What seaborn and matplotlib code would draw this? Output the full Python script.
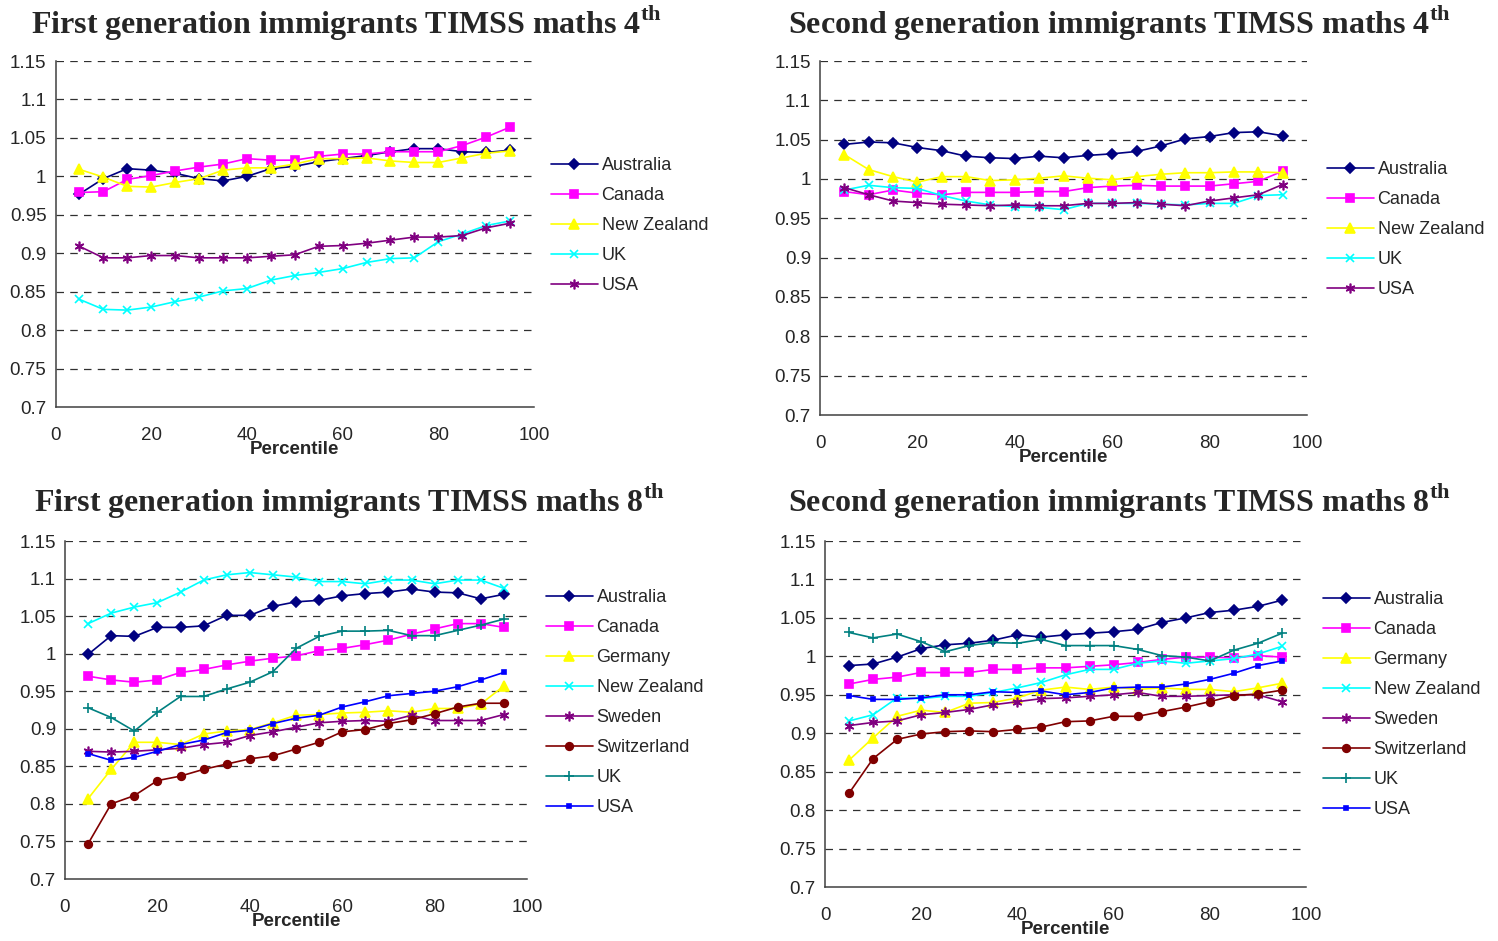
import matplotlib
matplotlib.use("Agg")
import matplotlib.pyplot as plt
import matplotlib.ticker as mticker
import seaborn as sns

# percentiles (x axis)
pct = [5, 10, 15, 20, 25, 30, 35, 40, 45, 50, 55, 60, 65, 70, 75, 80, 85, 90, 95]

# First generation, TIMSS maths 4th
aus1_4 = [0.977, 0.997, 1.010, 1.008, 1.004, 0.997, 0.994, 1.000, 1.010, 1.013, 1.019, 1.023, 1.027, 1.032, 1.036, 1.036, 1.032, 1.031, 1.034]
can1_4 = [0.979, 0.980, 0.996, 1.001, 1.007, 1.012, 1.016, 1.023, 1.021, 1.021, 1.026, 1.029, 1.029, 1.032, 1.032, 1.032, 1.040, 1.051, 1.064]
nz1_4 = [1.009, 0.999, 0.987, 0.986, 0.992, 0.997, 1.008, 1.011, 1.011, 1.016, 1.023, 1.023, 1.024, 1.020, 1.018, 1.018, 1.024, 1.030, 1.033]
uk1_4 = [0.840, 0.827, 0.826, 0.830, 0.837, 0.843, 0.851, 0.854, 0.865, 0.871, 0.875, 0.880, 0.888, 0.893, 0.894, 0.915, 0.925, 0.936, 0.942]
usa1_4 = [0.909, 0.894, 0.894, 0.897, 0.897, 0.894, 0.894, 0.894, 0.896, 0.898, 0.909, 0.910, 0.913, 0.917, 0.921, 0.921, 0.923, 0.933, 0.939]

# Second generation, TIMSS maths 4th
aus2_4 = [1.044, 1.047, 1.046, 1.040, 1.036, 1.029, 1.027, 1.026, 1.029, 1.027, 1.030, 1.032, 1.035, 1.042, 1.051, 1.054, 1.059, 1.060, 1.055]
can2_4 = [0.984, 0.980, 0.986, 0.982, 0.980, 0.983, 0.983, 0.983, 0.984, 0.984, 0.989, 0.991, 0.992, 0.991, 0.991, 0.991, 0.994, 0.997, 1.010]
nz2_4 = [1.031, 1.012, 1.003, 0.996, 1.003, 1.003, 0.998, 0.999, 1.001, 1.004, 1.001, 0.999, 1.003, 1.006, 1.008, 1.008, 1.009, 1.009, 1.008]
uk2_4 = [0.986, 0.992, 0.989, 0.988, 0.979, 0.972, 0.967, 0.965, 0.964, 0.961, 0.969, 0.969, 0.969, 0.968, 0.967, 0.969, 0.969, 0.979, 0.980]
usa2_4 = [0.989, 0.980, 0.972, 0.970, 0.968, 0.967, 0.966, 0.967, 0.966, 0.966, 0.969, 0.969, 0.970, 0.968, 0.966, 0.972, 0.976, 0.980, 0.993]

# First generation, TIMSS maths 8th
aus1_8 = [0.999, 1.024, 1.023, 1.035, 1.035, 1.037, 1.051, 1.051, 1.063, 1.069, 1.071, 1.077, 1.080, 1.082, 1.086, 1.082, 1.081, 1.073, 1.079]
can1_8 = [0.970, 0.965, 0.962, 0.965, 0.975, 0.979, 0.985, 0.990, 0.994, 0.997, 1.004, 1.007, 1.012, 1.018, 1.026, 1.033, 1.040, 1.040, 1.035]
ger1_8 = [0.807, 0.846, 0.882, 0.882, 0.879, 0.893, 0.897, 0.899, 0.908, 0.918, 0.919, 0.921, 0.922, 0.924, 0.922, 0.927, 0.927, 0.933, 0.957]
nz1_8 = [1.040, 1.054, 1.062, 1.068, 1.082, 1.098, 1.105, 1.108, 1.105, 1.102, 1.096, 1.096, 1.093, 1.098, 1.098, 1.093, 1.098, 1.098, 1.087]
swe1_8 = [0.870, 0.869, 0.870, 0.872, 0.874, 0.879, 0.882, 0.891, 0.896, 0.902, 0.908, 0.910, 0.911, 0.910, 0.918, 0.911, 0.911, 0.911, 0.919]
swi1_8 = [0.747, 0.800, 0.811, 0.831, 0.837, 0.846, 0.853, 0.860, 0.864, 0.873, 0.882, 0.896, 0.899, 0.907, 0.912, 0.920, 0.929, 0.934, 0.934]
uk1_8 = [0.928, 0.915, 0.897, 0.922, 0.943, 0.943, 0.953, 0.962, 0.976, 1.007, 1.023, 1.030, 1.030, 1.031, 1.024, 1.024, 1.031, 1.038, 1.046]
usa1_8 = [0.867, 0.858, 0.862, 0.870, 0.879, 0.885, 0.895, 0.898, 0.907, 0.914, 0.918, 0.929, 0.936, 0.944, 0.947, 0.950, 0.956, 0.965, 0.975]

# Second generation, TIMSS maths 8th
aus2_8 = [0.988, 0.990, 0.999, 1.010, 1.015, 1.017, 1.021, 1.028, 1.025, 1.028, 1.030, 1.032, 1.035, 1.044, 1.050, 1.057, 1.060, 1.065, 1.073]
can2_8 = [0.964, 0.970, 0.973, 0.979, 0.979, 0.979, 0.983, 0.983, 0.985, 0.985, 0.987, 0.989, 0.992, 0.996, 0.999, 0.999, 0.998, 1.001, 0.999]
ger2_8 = [0.865, 0.894, 0.922, 0.930, 0.927, 0.939, 0.940, 0.946, 0.956, 0.960, 0.957, 0.960, 0.957, 0.959, 0.957, 0.957, 0.954, 0.959, 0.965]
nz2_8 = [0.916, 0.924, 0.946, 0.945, 0.948, 0.948, 0.953, 0.959, 0.966, 0.976, 0.983, 0.983, 0.991, 0.994, 0.991, 0.994, 0.997, 1.003, 1.013]
swe2_8 = [0.910, 0.914, 0.916, 0.924, 0.927, 0.931, 0.937, 0.941, 0.945, 0.946, 0.948, 0.950, 0.953, 0.948, 0.948, 0.949, 0.950, 0.950, 0.941]
swi2_8 = [0.822, 0.867, 0.892, 0.899, 0.902, 0.903, 0.902, 0.905, 0.908, 0.915, 0.916, 0.922, 0.922, 0.928, 0.934, 0.941, 0.949, 0.951, 0.956]
uk2_8 = [1.031, 1.024, 1.029, 1.019, 1.006, 1.014, 1.018, 1.017, 1.022, 1.014, 1.014, 1.014, 1.009, 1.001, 0.999, 0.994, 1.008, 1.017, 1.030]
usa2_8 = [0.949, 0.944, 0.944, 0.946, 0.950, 0.950, 0.954, 0.953, 0.955, 0.950, 0.953, 0.959, 0.960, 0.960, 0.964, 0.970, 0.978, 0.988, 0.994]

titles = ["First generation immigrants TIMSS maths 4",
          "Second generation immigrants TIMSS maths 4",
          "First generation immigrants TIMSS maths 8",
          "Second generation immigrants TIMSS maths 8"]

ASTER = (6, 2, 0)
# style per series: (label, colour, marker, markersize)
sty_4th = [("Australia", "#000080", "D", 5), ("Canada", "#FF00FF", "s", 5.5),
           ("New Zealand", "#FFFF00", "^", 6.5), ("UK", "#00FFFF", "x", 6),
           ("USA", "#800080", ASTER, 7)]
sty_8th = [("Australia", "#000080", "D", 5), ("Canada", "#FF00FF", "s", 5.5),
           ("Germany", "#FFFF00", "^", 6.5), ("New Zealand", "#00FFFF", "x", 6),
           ("Sweden", "#800080", ASTER, 7), ("Switzerland", "#800000", "o", 5.5),
           ("UK", "#008080", "+", 7), ("USA", "#0000FF", "s", 2.2)]

panels = [
    (sty_4th, [aus1_4, can1_4, nz1_4, uk1_4, usa1_4]),
    (sty_4th, [aus2_4, can2_4, nz2_4, uk2_4, usa2_4]),
    (sty_8th, [aus1_8, can1_8, ger1_8, nz1_8, swe1_8, swi1_8, uk1_8, usa1_8]),
    (sty_8th, [aus2_8, can2_8, ger2_8, nz2_8, swe2_8, swi2_8, uk2_8, usa2_8]),
]

sns.set_style("white")
plt.rcParams["font.family"] = ["Liberation Sans", "DejaVu Sans"]
plt.rcParams["mathtext.fontset"] = "custom"
plt.rcParams["mathtext.rm"] = "Liberation Serif:bold"
plt.rcParams["mathtext.bf"] = "Liberation Serif:bold"

W, H = 1498, 941
fig = plt.figure(figsize=(W / 100, H / 100), dpi=100)

# axes boxes in pixels: left, right, top, bottom
boxes = [(55.5, 534, 61, 407), (820, 1307, 61, 415),
         (65, 527, 541, 879), (825, 1306, 541, 887)]
title_pos = [(346, 33), (1119, 33), (349, 511), (1119, 511)]
leg_pos = [(551, 157), (1327, 161), (546, 589), (1323, 591)]

for i, (sty, series) in enumerate(panels):
    l, r, t, b = boxes[i]
    ax = fig.add_axes([l / W, 1 - b / H, (r - l) / W, (b - t) / H])
    for (name, col, mk, ms), vals in zip(sty, series):
        sns.lineplot(x=pct, y=vals, ax=ax, color=col, marker=mk, markersize=ms,
                     markeredgecolor=col, markerfacecolor=col, markeredgewidth=1.2,
                     linewidth=1.2, label=name)
    ax.set_xlim(0, 100)
    ax.set_ylim(0.7, 1.15)
    ax.set_xticks([0, 20, 40, 60, 80, 100])
    ax.set_yticks([0.7 + 0.05 * k for k in range(10)])
    ax.yaxis.set_major_formatter(mticker.FuncFormatter(lambda v, p: f"{round(v, 2):g}"))
    ax.tick_params(direction="inout", length=7, width=1, labelsize=13.5, color="#404040", pad=3)
    ax.tick_params(axis="x", pad=11)
    for yv in [0.75 + 0.05 * k for k in range(9)]:
        ax.axhline(yv, color="#303030", lw=0.9, dashes=(6, 5), zorder=0)
    for s in ["top", "right"]:
        ax.spines[s].set_visible(False)
    for s in ["left", "bottom"]:
        ax.spines[s].set_color("#404040")
        ax.spines[s].set_linewidth(1.1)
    ax.set_xlabel("Percentile", fontsize=13.5, fontweight="bold", labelpad=-2)
    ax.set_ylabel("")
    lx, ly = leg_pos[i]
    ax.legend(loc="upper left", bbox_to_anchor=(lx / W, 1 - ly / H),
              bbox_transform=fig.transFigure, frameon=False, fontsize=13,
              handlelength=2.6, handletextpad=0.2, labelspacing=0.72,
              borderpad=0, borderaxespad=0, numpoints=1)
    tx, ty = title_pos[i]
    fig.text(tx / W, 1 - ty / H, titles[i] + r"$^{\mathrm{th}}$", ha="center", va="baseline",
             fontsize=23, fontweight="bold", family="Liberation Serif")

fig.savefig("out.png", dpi=100)
